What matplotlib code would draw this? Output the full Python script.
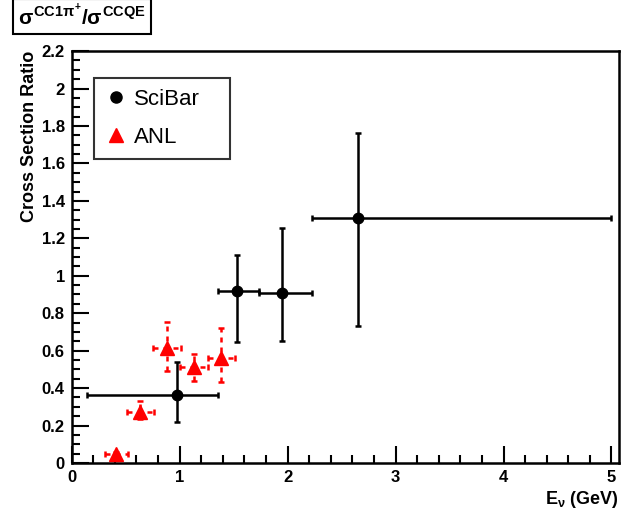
import matplotlib
matplotlib.use("Agg")
import matplotlib.pyplot as plt
from matplotlib.ticker import MultipleLocator, FuncFormatter
from matplotlib.lines import Line2D

plt.rcParams['font.family'] = ['Liberation Sans', 'DejaVu Sans']
plt.rcParams['font.weight'] = 'bold'
plt.rcParams['mathtext.fontset'] = 'custom'
plt.rcParams['mathtext.rm'] = 'Liberation Sans:bold'
plt.rcParams['mathtext.bf'] = 'Liberation Sans:bold'
plt.rcParams['mathtext.it'] = 'Liberation Sans:bold'

# SciBar points
sb_x = [0.975, 1.53, 1.945, 2.653]
sb_y = [0.364, 0.92, 0.909, 1.309]
sb_xlo = [0.14, 1.355, 1.735, 2.224]
sb_xhi = [1.355, 1.735, 2.226, 5.0]
sb_ylo = [0.22, 0.645, 0.652, 0.734]
sb_yhi = [0.54, 1.11, 1.257, 1.765]

# ANL points
anl_x = [0.41, 0.635, 0.88, 1.13, 1.38]
anl_y = [0.048, 0.27, 0.615, 0.51, 0.56]
anl_xlo = [0.31, 0.51, 0.75, 1.0, 1.26]
anl_xhi = [0.52, 0.76, 1.01, 1.26, 1.51]
anl_ylo = [0.04, 0.235, 0.49, 0.44, 0.43]
anl_yhi = [0.056, 0.33, 0.755, 0.58, 0.72]

fig = plt.figure(figsize=(6.21, 5.11), dpi=100)
ax = fig.add_axes([0.1155, 0.094, 0.9968 - 0.1155, 0.900 - 0.094])

def errs(v, lo, hi):
    return [[a - b for a, b in zip(v, lo)], [c - a for a, c in zip(v, hi)]]

# ANL (dashed red)
eb = ax.errorbar(anl_x, anl_y, xerr=errs(anl_x, anl_xlo, anl_xhi),
                 yerr=errs(anl_y, anl_ylo, anl_yhi), fmt='none',
                 ecolor='red', elinewidth=1.8, capsize=2, capthick=1.8)
for lc in eb[2]:
    lc.set_linestyle((0, (2, 2)))
ax.plot(anl_x, anl_y, '^', color='red', markersize=10, zorder=5)

# SciBar
ax.errorbar(sb_x, sb_y, xerr=errs(sb_x, sb_xlo, sb_xhi),
            yerr=errs(sb_y, sb_ylo, sb_yhi), fmt='o', color='black',
            markersize=7.5, elinewidth=1.8, capsize=2, capthick=1.8, zorder=6)

ax.set_xlim(0, 5.07)
ax.set_ylim(0, 2.2)
ax.xaxis.set_major_locator(MultipleLocator(1))
ax.xaxis.set_minor_locator(MultipleLocator(0.2))
ax.yaxis.set_major_locator(MultipleLocator(0.2))
ax.yaxis.set_minor_locator(MultipleLocator(0.05))
ax.xaxis.set_major_formatter(FuncFormatter(lambda v, p: f'{v:g}'))
ax.yaxis.set_major_formatter(FuncFormatter(lambda v, p: f'{round(v, 2):g}'))
ax.tick_params(which='both', direction='in', width=1.5, labelsize=12,
               top=False, right=False)
ax.tick_params(which='major', length=12)
ax.tick_params(which='minor', length=6)
ax.tick_params(axis='x', pad=5)
ax.tick_params(axis='y', pad=5)
for s in ax.spines.values():
    s.set_linewidth(1.8)

fig.text(0.997, 0.014, r'E$_\nu$ (GeV)', ha='right', va='baseline',
         fontsize=13, fontweight='bold')
fig.text(0.047, 0.90, 'Cross Section Ratio', ha='center', va='top',
         rotation=90, fontsize=13, fontweight='bold')

fig.text(0.0177 + (0.246 - 0.0177) / 2, 0.968,
         r'$\sigma^{CC1\pi^{+}}/\sigma^{CCQE}$', ha='center',
         va='center', fontsize=15,
         bbox=dict(boxstyle='square,pad=0.25', fc='white', ec='black', lw=1.5))

handles = [Line2D([], [], marker='o', color='black', ls='none', markersize=8),
           Line2D([], [], marker='^', color='red', ls='none', markersize=10)]
leg = ax.legend(handles, ['SciBar', 'ANL'], loc='upper left',
                bbox_to_anchor=(0.040, 0.7536, 0.25, 0.181), mode='expand',
                borderaxespad=0, frameon=True, fancybox=False,
                handletextpad=0.3, borderpad=0.5, labelspacing=0.75,
                prop={'weight': 'normal', 'size': 16}, handlelength=1.0)
leg.get_frame().set_edgecolor('black')
leg.get_frame().set_linewidth(1.5)

fig.savefig('out.png', dpi=100)
